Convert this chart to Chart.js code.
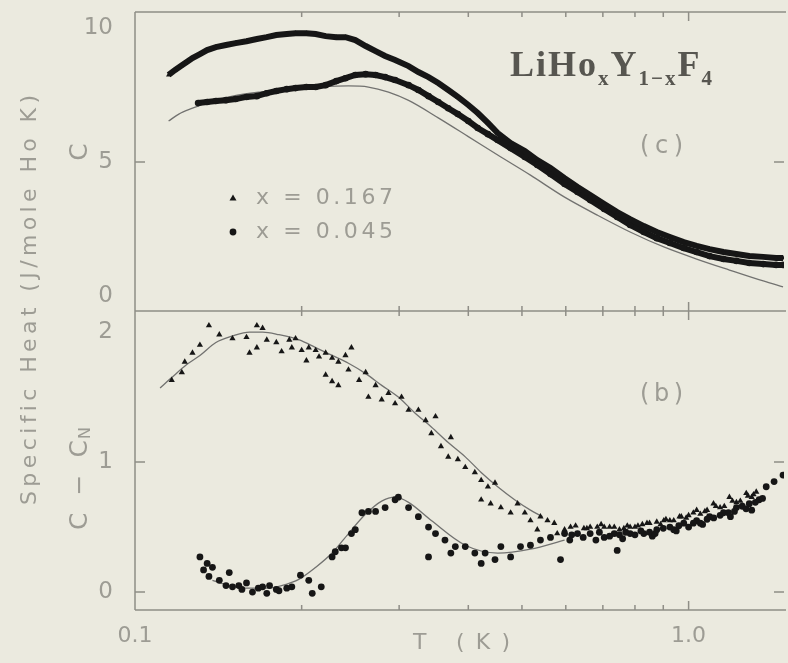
<!DOCTYPE html>
<html>
<head>
<meta charset="utf-8">
<script src="https://cdn.jsdelivr.net/npm/chart.js@4.4.1/dist/chart.umd.min.js"></script>
<style>
  html, body { margin: 0; padding: 0; background: #ebeadf; overflow: hidden; }
  canvas { display: block; }
</style>
</head>
<body>
<canvas id="heat" width="788" height="663"></canvas>
<script>
// ---- Upper panel (c): specific heat C, J/(mole Ho K), versus T (K) ----
const tTop167 = [0.115,0.118,0.121,0.124,0.127,0.131,0.135,0.140,0.146,0.152,0.159,0.166,0.173,0.180,0.188,0.195,0.204,0.212,0.221,0.231,0.240,0.250,0.261,0.272,0.283,0.295,0.312,0.325,0.339,0.353,0.368,0.383,0.400,0.416,0.434,0.452,0.477,0.506,0.533,0.563,0.597,0.630,0.664,0.704,0.743,0.784,0.830,0.876,0.925,0.980,1.034,1.091,1.156,1.220,1.287,1.364,1.439,1.481];
const cTop167 = [8.25,8.43,8.58,8.73,8.88,9.03,9.18,9.29,9.37,9.44,9.51,9.59,9.66,9.74,9.78,9.81,9.81,9.78,9.70,9.66,9.66,9.55,9.33,9.14,8.96,8.81,8.58,8.36,8.17,7.95,7.69,7.43,7.13,6.83,6.46,6.08,5.71,5.41,5.07,4.78,4.40,4.07,3.77,3.43,3.13,2.87,2.61,2.39,2.20,2.01,1.87,1.75,1.64,1.57,1.49,1.46,1.42,1.42];

const tTop045 = [0.130,0.135,0.140,0.146,0.152,0.159,0.166,0.173,0.180,0.188,0.195,0.204,0.212,0.221,0.231,0.240,0.250,0.261,0.272,0.283,0.295,0.312,0.325,0.339,0.353,0.368,0.383,0.400,0.416,0.434,0.452,0.477,0.506,0.533,0.563,0.597,0.630,0.664,0.704,0.743,0.784,0.830,0.876,0.925,0.980,1.034,1.091,1.156,1.220,1.287,1.364,1.439,1.481];
const cTop045 = [7.20,7.24,7.28,7.31,7.35,7.43,7.46,7.57,7.65,7.72,7.76,7.80,7.80,7.87,8.02,8.13,8.25,8.28,8.25,8.17,8.06,7.87,7.69,7.46,7.24,7.01,6.79,6.53,6.27,6.04,5.82,5.52,5.19,4.89,4.55,4.18,3.88,3.58,3.25,2.95,2.65,2.39,2.16,1.98,1.79,1.64,1.49,1.38,1.31,1.23,1.19,1.16,1.16];

const tFitTop = [0.115,0.120,0.127,0.136,0.150,0.168,0.190,0.215,0.243,0.264,0.287,0.312,0.353,0.400,0.452,0.518,0.597,0.684,0.784,0.902,1.034,1.185,1.364,1.481];
const cFitTop = [6.53,6.79,7.01,7.24,7.46,7.61,7.72,7.80,7.84,7.80,7.61,7.30,6.65,5.95,5.26,4.51,3.69,3.02,2.39,1.83,1.38,0.97,0.56,0.34];

// ---- Lower panel (b): C - C_N versus T (K) ----
const tDiff167 = [0.1165,0.1215,0.123,0.127,0.131,0.136,0.142,0.150,0.159,0.166,
  0.170,0.161,0.166,0.173,0.180,0.184,0.190,0.195,0.192,0.200,
  0.206,0.212,0.204,0.215,0.221,0.227,0.233,0.240,0.246,0.221,
  0.227,0.233,0.243,0.254,0.261,0.264,0.272,0.279,0.287,0.295,
  0.303,0.312,0.325,0.335,0.349,0.343,0.357,0.372,0.368,0.383,
  0.395,0.411,0.422,0.434,0.447,0.422,0.439,0.458,0.477,0.491,
  0.506,0.518,0.533,0.540,0.556,0.572,0.579,0.597,0.612,0.647,
  0.684,0.734,0.784,0.841,0.902,0.963,1.034,1.109,1.185,1.271,1.325,
  0.664,0.704,0.764,0.810,0.876,0.925,1.000,1.070,1.140,1.220,1.300,
  0.625,0.655,0.695,0.720,0.750,0.775,0.800,0.825,0.850,0.890,0.910,0.940,
  0.970,0.990,1.020,1.050,1.080,1.120,1.160,1.200,1.240,1.280,1.310];
const dDiff167 = [1.63,1.69,1.77,1.84,1.90,2.05,1.98,1.95,1.96,2.05,
  2.03,1.84,1.88,1.94,1.92,1.85,1.94,1.95,1.88,1.86,
  1.88,1.86,1.78,1.81,1.84,1.80,1.77,1.82,1.88,1.67,
  1.62,1.59,1.71,1.63,1.69,1.50,1.59,1.48,1.53,1.45,
  1.50,1.40,1.40,1.32,1.35,1.22,1.12,1.19,1.04,1.02,
  0.96,0.92,0.86,0.81,0.84,0.71,0.68,0.65,0.61,0.68,
  0.61,0.55,0.48,0.58,0.55,0.53,0.45,0.48,0.50,0.49,
  0.50,0.50,0.50,0.53,0.55,0.58,0.63,0.68,0.73,0.76,0.77,
  0.50,0.50,0.49,0.51,0.54,0.55,0.59,0.62,0.65,0.69,0.73,
  0.51,0.49,0.52,0.50,0.48,0.51,0.50,0.52,0.53,0.52,0.56,0.55,
  0.58,0.57,0.61,0.60,0.63,0.66,0.66,0.70,0.70,0.74,0.75];

const tDiff045 = [0.131,0.135,0.133,0.138,0.136,0.142,0.148,0.146,0.150,0.154,
  0.156,0.159,0.163,0.167,0.170,0.173,0.175,0.180,0.182,0.188,
  0.192,0.199,0.206,0.209,0.217,0.227,0.230,0.236,0.240,0.246,
  0.250,0.257,0.264,0.272,0.283,0.295,0.299,0.312,0.325,0.339,
  0.349,0.363,0.379,0.395,0.411,0.429,0.447,0.339,0.372,0.422,
  0.477,0.458,0.497,0.518,0.540,0.587,0.563,0.597,0.630,0.664,
  0.704,0.743,0.734,0.784,0.830,0.876,0.925,0.980,1.034,1.091,
  1.156,1.220,1.287,1.341,1.381,1.427,1.481,
  0.610,0.680,0.760,0.860,0.950,1.060,1.190,1.300,
  0.615,0.645,0.690,0.720,0.750,0.770,0.800,0.820,0.850,0.870,0.900,0.940,0.960,
  1.000,1.020,1.050,1.080,1.110,1.140,1.180,1.210,1.250,1.270,1.320,1.360];
const dDiff045 = [0.27,0.22,0.17,0.19,0.12,0.09,0.15,0.05,0.04,0.05,
  0.02,0.07,0.00,0.03,0.04,-0.01,0.05,0.02,0.01,0.03,
  0.04,0.13,0.09,-0.01,0.04,0.27,0.31,0.34,0.34,0.45,
  0.48,0.61,0.62,0.62,0.65,0.71,0.73,0.65,0.58,0.50,
  0.45,0.40,0.35,0.35,0.30,0.30,0.25,0.27,0.30,0.22,
  0.27,0.35,0.35,0.36,0.40,0.25,0.42,0.45,0.45,0.45,
  0.42,0.32,0.45,0.45,0.45,0.48,0.50,0.53,0.55,0.58,
  0.61,0.65,0.68,0.71,0.81,0.85,0.90,
  0.40,0.40,0.41,0.43,0.47,0.52,0.58,0.63,
  0.44,0.42,0.46,0.43,0.44,0.46,0.44,0.47,0.46,0.45,0.49,0.48,0.51,
  0.50,0.53,0.53,0.56,0.57,0.59,0.61,0.62,0.66,0.64,0.69,0.72];

const tFit167 = [0.111,0.1165,0.124,0.131,0.140,0.150,0.161,0.170,0.182,0.198,0.212,0.227,0.243,0.261,0.279,0.299,0.320,0.343,0.368,0.395,0.422,0.452,0.485,0.518,0.545];
const dFit167 = [1.57,1.65,1.75,1.82,1.92,1.97,2.00,2.00,1.98,1.94,1.88,1.82,1.76,1.68,1.59,1.50,1.38,1.27,1.15,1.04,0.92,0.81,0.71,0.63,0.58];

const tFit045 = [0.138,0.148,0.159,0.173,0.184,0.198,0.212,0.227,0.243,0.261,0.279,0.295,0.312,0.343,0.395,0.452,0.518,0.597];
const dFit045 = [0.09,0.05,0.03,0.03,0.05,0.10,0.19,0.30,0.45,0.60,0.70,0.73,0.69,0.55,0.36,0.30,0.33,0.40];

// ---- Axis ticks ----
const xLabelTicks = [0.1, 1.0];
const xMinorTicks = [0.2, 0.3, 0.4, 0.5, 0.6, 0.7, 0.8, 0.9, 1.0];
const yTopTicks = [0, 5, 10];
const yTopMarks = [5];
const yDiffTicks = [0, 1, 2];
const yDiffMarks = [0, 1];
const legendLabels = ['x = 0.167', 'x = 0.045'];

const INK = '#161616';
const FIT = '#727270';
const FRAME = '#8f8e87';
const TXT = '#9d9c94';
const SANS = '"DejaVu Sans", Verdana, sans-serif';
const SERIF = '"Liberation Serif", "DejaVu Serif", serif';

const pts = (xs, ys) => xs.map((t, i) => ({ x: t, y: ys[i] }));

// Draws a string char by char so that it spans `width` pixels, starting at x.
function spaced(ctx, text, x, y, width) {
  const chars = [...text];
  const natural = chars.reduce((s, ch) => s + ctx.measureText(ch).width, 0);
  const gap = chars.length > 1 ? (width - natural) / (chars.length - 1) : 0;
  let cx = x;
  for (const ch of chars) {
    ctx.fillText(ch, cx, y);
    cx += ctx.measureText(ch).width + gap;
  }
  return cx - gap;
}

const background = {
  id: 'background',
  beforeDraw(chart) {
    const c = chart.ctx;
    c.save();
    c.fillStyle = '#ebeadf';
    c.fillRect(0, 0, chart.width, chart.height);
    c.restore();
  }
};

// Box, panel divider and inward tick marks
const frame = {
  id: 'frame',
  beforeDatasetsDraw(chart) {
    const c = chart.ctx;
    const { left, right, top, bottom } = chart.chartArea;
    const x = chart.scales.x, y1 = chart.scales.y1, y2 = chart.scales.y2;
    const mid = y1.bottom;
    c.save();
    c.strokeStyle = FRAME;
    c.lineWidth = 1.5;
    c.beginPath();
    c.moveTo(left, top); c.lineTo(right + 2, top);
    c.moveTo(left, mid); c.lineTo(right + 2, mid);
    c.moveTo(left, bottom); c.lineTo(right + 2, bottom);
    c.moveTo(left, top); c.lineTo(left, bottom);
    for (const t of xMinorTicks) {
      const px = x.getPixelForValue(t);
      const len = t === 1.0 ? 9 : 5;
      c.moveTo(px, top); c.lineTo(px, top + len);
      c.moveTo(px, mid - len); c.lineTo(px, mid + len);
      c.moveTo(px, bottom); c.lineTo(px, bottom - len);
    }
    for (const v of yTopMarks) {
      const py = y1.getPixelForValue(v);
      c.moveTo(left, py); c.lineTo(left + 10, py);
      c.moveTo(right, py); c.lineTo(right - 10, py);
    }
    for (const v of yDiffMarks) {
      const py = y2.getPixelForValue(v);
      c.moveTo(left, py); c.lineTo(left + 10, py);
      c.moveTo(right, py); c.lineTo(right - 10, py);
    }
    c.stroke();
    c.restore();
  }
};

// Axis titles, panel tags, formula and legend
const annotations = {
  id: 'annotations',
  afterDraw(chart) {
    const c = chart.ctx;
    c.save();
    c.fillStyle = TXT;
    c.textBaseline = 'middle';
    c.textAlign = 'left';

    // outer y title
    c.save();
    c.translate(30, 300);
    c.rotate(-Math.PI / 2);
    c.font = '22px ' + SANS;
    spaced(c, 'Specific Heat (J/mole Ho K)', -205, 0, 410);
    c.restore();

    // panel y titles
    c.save();
    c.translate(80, 152);
    c.rotate(-Math.PI / 2);
    c.font = '25px ' + SANS;
    c.textAlign = 'center';
    c.fillText('C', 0, 0);
    c.restore();

    c.save();
    c.translate(80, 478);
    c.rotate(-Math.PI / 2);
    c.font = '25px ' + SANS;
    const endX = spaced(c, 'C \u2212 C', -52, 0, 90);
    c.font = '16px ' + SANS;
    c.fillText('N', endX + 1, 6);
    c.restore();

    // x title
    c.font = '22px ' + SANS;
    spaced(c, 'T (K)', 413, 643, 97);

    // panel tags
    c.font = '24px ' + SANS;
    spaced(c, '(c)', 640, 147, 43);
    spaced(c, '(b)', 640, 395, 43);

    // legend
    c.fillStyle = INK;
    c.beginPath();
    c.moveTo(233, 194.5); c.lineTo(236.5, 200.5); c.lineTo(229.5, 200.5); c.closePath();
    c.fill();
    c.beginPath();
    c.arc(233, 232, 3.4, 0, Math.PI * 2);
    c.fill();
    c.fillStyle = TXT;
    c.font = '22px ' + SANS;
    spaced(c, legendLabels[0], 256, 198, 137);
    spaced(c, legendLabels[1], 256, 232, 137);

    // compound formula LiHo_x Y_(1-x) F_4
    c.fillStyle = '#575650';
    c.textBaseline = 'alphabetic';
    const runs = [
      { t: 'LiHo', sub: false }, { t: 'x', sub: true }, { t: 'Y', sub: false },
      { t: '1\u2212x', sub: true }, { t: 'F', sub: false }, { t: '4', sub: true }
    ];
    let fx = 510;
    const gap = 2;
    for (const r of runs) {
      c.font = r.sub ? 'bold 21px ' + SERIF : 'bold 36px ' + SERIF;
      for (const ch of r.t) {
        c.fillText(ch, fx, r.sub ? 85 : 76);
        fx += c.measureText(ch).width + gap;
      }
    }
    c.restore();
  }
};

new Chart(document.getElementById('heat'), {
  type: 'scatter',
  data: {
    datasets: [
      { label: legendLabels[0], data: pts(tTop167, cTop167), yAxisID: 'y1', showLine: true,
        borderColor: INK, borderWidth: 6, backgroundColor: INK, pointBorderColor: INK,
        pointStyle: 'triangle', pointRadius: 3, pointBorderWidth: 0 },
      { label: legendLabels[1], data: pts(tTop045, cTop045), yAxisID: 'y1', showLine: true,
        borderColor: INK, borderWidth: 6, backgroundColor: INK, pointBorderColor: INK,
        pointStyle: 'circle', pointRadius: 3.3, pointBorderWidth: 0 },
      { label: legendLabels[0], data: pts(tDiff167, dDiff167), yAxisID: 'y2',
        backgroundColor: INK, pointBorderColor: INK, pointStyle: 'triangle',
        pointRadius: 3.6, pointBorderWidth: 0 },
      { label: legendLabels[1], data: pts(tDiff045, dDiff045), yAxisID: 'y2',
        backgroundColor: INK, pointBorderColor: INK, pointStyle: 'circle',
        pointRadius: 3.4, pointBorderWidth: 0 },
      { label: 'fit C', data: pts(tFitTop, cFitTop), yAxisID: 'y1', showLine: true,
        borderColor: FIT, borderWidth: 1.3, pointRadius: 0, cubicInterpolationMode: 'monotone' },
      { label: 'fit 0.167', data: pts(tFit167, dFit167), yAxisID: 'y2', showLine: true,
        borderColor: FIT, borderWidth: 1.3, pointRadius: 0, cubicInterpolationMode: 'monotone' },
      { label: 'fit 0.045', data: pts(tFit045, dFit045), yAxisID: 'y2', showLine: true,
        borderColor: FIT, borderWidth: 1.3, pointRadius: 0, cubicInterpolationMode: 'monotone' }
    ]
  },
  options: {
    responsive: false,
    animation: false,
    events: [],
    devicePixelRatio: 1,
    layout: { padding: { top: 12, left: 0, right: 0, bottom: 0 } },
    plugins: { legend: { display: false }, tooltip: { enabled: false } },
    scales: {
      x: {
        type: 'logarithmic',
        position: 'bottom',
        min: 0.1,
        max: 1.487,
        grid: { display: false },
        border: { display: false },
        afterBuildTicks: s => { s.ticks = xLabelTicks.map(v => ({ value: v })); },
        afterFit: s => { s.height = 53; s.paddingLeft = 0; s.paddingRight = 0; },
        ticks: {
          autoSkip: false,
          maxRotation: 0,
          padding: 5,
          color: TXT,
          font: { family: SANS, size: 22 },
          callback: v => Number(v).toFixed(1)
        }
      },
      y1: {
        type: 'linear',
        position: 'left',
        stack: 'panels',
        stackWeight: 1,
        weight: 2,
        min: -0.56,
        max: 10.6,
        grid: { display: false },
        border: { display: false },
        afterBuildTicks: s => { s.ticks = yTopTicks.map(v => ({ value: v })); },
        afterFit: s => { s.width = 135; s.paddingTop = 0; s.paddingBottom = 0; },
        ticks: { padding: 14, color: TXT, font: { family: SANS, size: 23 } }
      },
      y2: {
        type: 'linear',
        position: 'left',
        stack: 'panels',
        stackWeight: 1,
        weight: 1,
        min: -0.138,
        max: 2.162,
        grid: { display: false },
        border: { display: false },
        afterBuildTicks: s => { s.ticks = yDiffTicks.map(v => ({ value: v })); },
        afterFit: s => { s.width = 135; s.paddingTop = 0; s.paddingBottom = 0; },
        ticks: { padding: 14, color: TXT, font: { family: SANS, size: 23 } }
      }
    }
  },
  plugins: [background, frame, annotations]
});
</script>
</body>
</html>
